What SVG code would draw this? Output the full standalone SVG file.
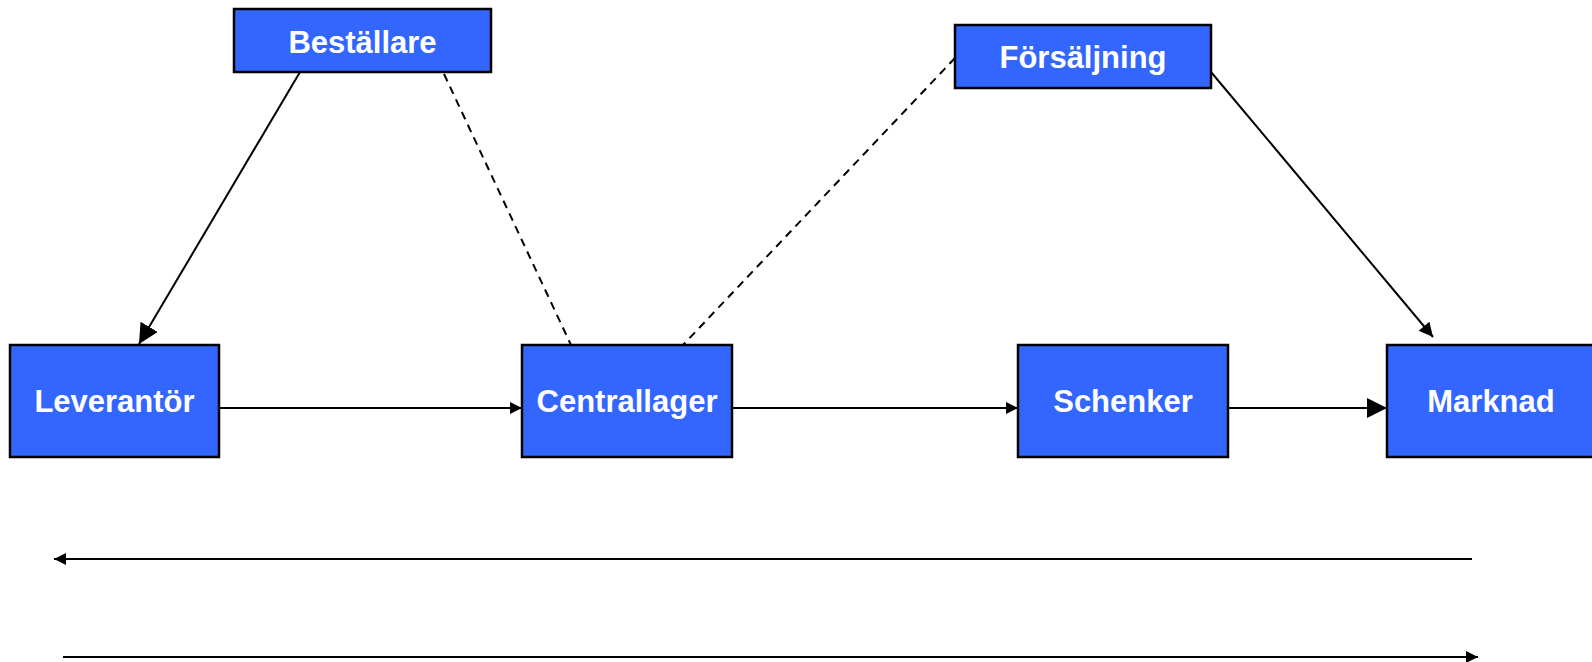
<svg xmlns="http://www.w3.org/2000/svg" width="1592" height="662" viewBox="0 0 1592 662">
<defs>
<style>
.box{fill:#3366FF;stroke:#000;stroke-width:2.5}
.lbl{font-family:"Liberation Sans",Arial,sans-serif;font-weight:bold;font-size:31px;fill:#fff;text-anchor:middle}
.ln{stroke:#000;stroke-width:2;fill:none}
.dash{stroke:#000;stroke-width:2;fill:none;stroke-dasharray:8,6}
</style>
<marker id="aS" viewBox="0 0 10 10" refX="10" refY="5" markerUnits="userSpaceOnUse" markerWidth="14" markerHeight="12" orient="auto"><path d="M0,0 L10,5 L0,10 z" fill="#000"/></marker>
<marker id="aL" viewBox="0 0 10 10" refX="10" refY="5" markerUnits="userSpaceOnUse" markerWidth="20" markerHeight="20" orient="auto"><path d="M0,0 L10,5 L0,10 z" fill="#000"/></marker>
<marker id="aM" viewBox="0 0 10 10" refX="10" refY="5" markerUnits="userSpaceOnUse" markerWidth="16" markerHeight="14" orient="auto"><path d="M0,0 L10,5 L0,10 z" fill="#000"/></marker>
</defs>
<g id="connectors">
<line class="ln" x1="300" y1="72" x2="139" y2="344" marker-end="url(#aL)"/>
<line class="dash" x1="444" y1="74" x2="571" y2="345"/>
<line class="dash" x1="955" y1="58" x2="683" y2="345"/>
<line class="ln" x1="1211" y1="72" x2="1433" y2="337" marker-end="url(#aM)"/>
<line class="ln" x1="219" y1="408" x2="522" y2="408" marker-end="url(#aS)"/>
<line class="ln" x1="732" y1="408" x2="1018" y2="408" marker-end="url(#aS)"/>
<line class="ln" x1="1228" y1="408" x2="1387" y2="408" marker-end="url(#aL)"/>
<line class="ln" x1="1472" y1="559" x2="54" y2="559" marker-end="url(#aS)"/>
<line class="ln" x1="63" y1="657" x2="1478" y2="657" marker-end="url(#aS)"/>
</g>
<g id="bestallare"><rect class="box" x="234" y="9" width="257" height="63"/><text class="lbl" x="362.5" y="53">Beställare</text></g>
<g id="forsaljning"><rect class="box" x="955" y="25" width="256" height="63"/><text class="lbl" x="1083" y="68">Försäljning</text></g>
<g id="leverantor"><rect class="box" x="10" y="345" width="209" height="112"/><text class="lbl" x="114.5" y="412">Leverantör</text></g>
<g id="centrallager"><rect class="box" x="522" y="345" width="210" height="112"/><text class="lbl" x="627" y="412">Centrallager</text></g>
<g id="schenker"><rect class="box" x="1018" y="345" width="210" height="112"/><text class="lbl" x="1123" y="412">Schenker</text></g>
<g id="marknad"><rect class="box" x="1387" y="345" width="210" height="112"/><text class="lbl" x="1491" y="412">Marknad</text></g>
</svg>
